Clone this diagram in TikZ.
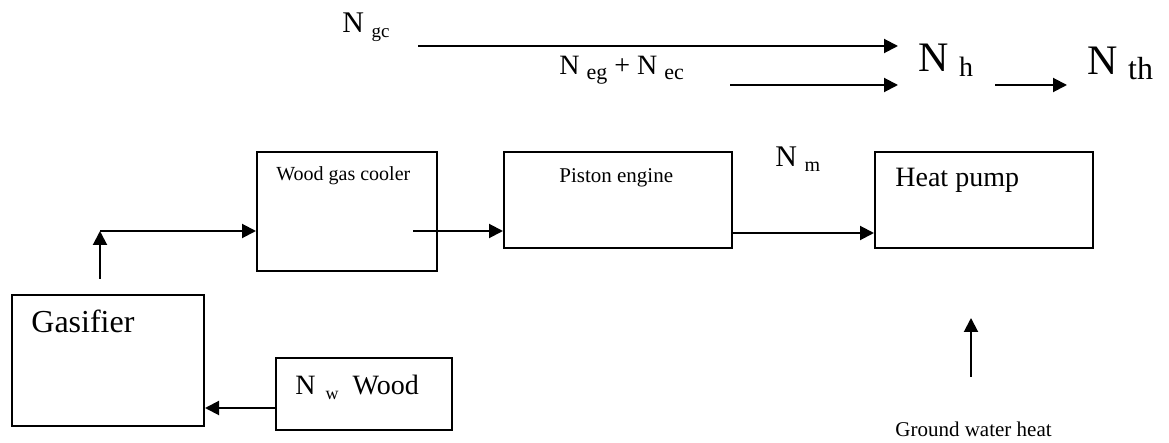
\documentclass[tikz,border=0pt]{standalone}
\usepackage{fontspec}
\setmainfont{Liberation Serif}
\usetikzlibrary{arrows.meta,positioning}
\newcommand{\fsz}[1]{\fontsize{#1}{#1}\selectfont}
\newcommand{\lowsub}[2]{\raisebox{-2.5pt}{\fsz{#1}#2}}
\tikzset{
  blockbox/.style={rectangle,draw,line width=1pt,inner sep=0pt,
    anchor=north west},
  txt/.style={inner sep=0pt,anchor=base west},
  flow/.style={-{Triangle[length=7pt,width=7pt]},line width=1pt},
}

\begin{document}
\begin{tikzpicture}[x=0.5pt,y=-0.5pt]
  \useasboundingbox (0,0) rectangle (1169,443);

  % blocks
  \node[blockbox,minimum width=96pt,minimum height=65.5pt] (gasifier) at (11,294) {};
  \node[blockbox,minimum width=88pt,minimum height=36pt] (wood) at (275,357) {};
  \node[blockbox,minimum width=90pt,minimum height=59.5pt] (cooler) at (256,151) {};
  \node[blockbox,minimum width=114pt,minimum height=48pt] (piston) at (503,151) {};
  \node[blockbox,minimum width=109pt,minimum height=48pt] (heatpump) at (874,151) {};

  % texts
  \node[txt,font=\fsz{16}] (gasifiertxt) at (31,333) {Gasifier};
  \node[txt,font=\fsz{14}] (woodtxt) at (295,395)
    {N\hspace{5pt}\lowsub{9}{w}\hspace{7pt}Wood};
  \node[txt,font=\fsz{10}] (coolertxt) at (276,181) {Wood gas cooler};
  \node[txt,font=\fsz{10.5}] (pistontxt) at (559,183) {Piston engine};
  \node[txt,font=\fsz{14}] (heatpumptxt) at (895,187) {Heat pump};
  \node[txt,font=\fsz{10.5}] (groundtxt) at (895,437) {Ground water heat};
  \node[txt,font=\fsz{15}] (nm) at (775,167) {N \lowsub{10}{m}};
  \node[txt,font=\fsz{15}] (ngc) at (342,33) {N \lowsub{9.5}{gc}};
  \node[txt,font=\fsz{14}] (negc) at (559,75) {N \lowsub{11}{eg} + N \lowsub{11}{ec}};
  \node[txt,font=\fsz{21}] (nh) at (918,72) {N \lowsub{14}{h}};
  \node[txt,font=\fsz{21}] (nth) at (1087,75) {N \lowsub{16}{th}};

  % free ends
  \coordinate (gcstart) at (418,46);
  \coordinate (gcend) at (898,46);
  \coordinate (egstart) at (730,85);
  \coordinate (egend) at (898,85);
  \coordinate (hstart) at (995,85);
  \coordinate (hend) at (1067,85);
  \coordinate (gasup) at (100,279);
  \coordinate (gasbend) at (100,231);
  \coordinate (coolout) at (413,231);
  \coordinate (woodout) at (275,408);
  \coordinate (groundin) at (971,377);
  \coordinate (groundtip) at (971,318);

  % connectors
  \draw[flow] (gcstart) -- (gcend);
  \draw[flow] (egstart) -- (egend);
  \draw[flow] (hstart) -- (hend);
  \draw[flow] (gasup) -- (gasbend);
  \draw[flow] (gasbend) -- (cooler.west |- gasbend);
  \draw[flow] (coolout) -- (piston.west |- coolout);
  \draw[flow] ([yshift=8pt]piston.south east) -- ([yshift=8pt]heatpump.south west);
  \draw[flow] (woodout) -- (gasifier.east |- woodout);
  \draw[flow] (groundin) -- (groundtip);
\end{tikzpicture}
\end{document}
